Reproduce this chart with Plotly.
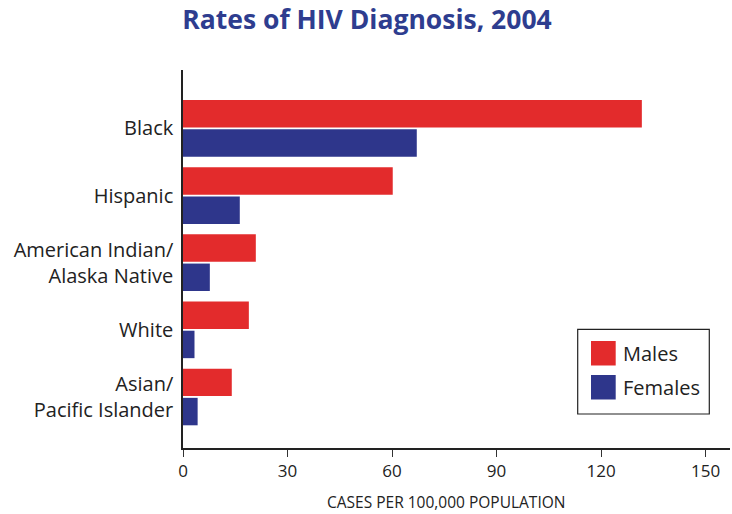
import plotly.graph_objects as go

categories = ["Asian/<br>Pacific Islander", "White", "American Indian/<br>Alaska Native", "Hispanic", "Black"]
males = [14.0, 18.9, 20.9, 60.2, 131.7]
females = [4.2, 3.3, 7.7, 16.3, 67.1]
tick_vals = [0, 30, 60, 90, 120, 150]
series_names = ["Males", "Females"]
colors = ["#E32B2C", "#2E368B"]
x_title = "CASES PER 100,000 POPULATION"

FONT = "Open Sans"

fig = go.Figure()
fig.add_trace(go.Bar(y=categories, x=females, orientation="h", name=series_names[1],
                     marker=dict(color=colors[1], line=dict(width=0)), showlegend=False))
fig.add_trace(go.Bar(y=categories, x=males, orientation="h", name=series_names[0],
                     marker=dict(color=colors[0], line=dict(width=0)), showlegend=False))

fig.update_layout(
    width=732, height=514,
    margin=dict(l=183, r=2, t=70, b=66),
    paper_bgcolor="white", plot_bgcolor="white",
    barmode="group", bargap=0.13, bargroupgap=0.06,
    title=dict(text="<b>Rates of HIV Diagnosis, 2004</b>", x=367/732, xanchor="center",
               y=0.962, yanchor="middle",
               font=dict(family=FONT, size=26.5, color="#2E3D8F")),
    font=dict(family=FONT, color="#222222"),
    xaxis=dict(range=[0, 157], tickvals=tick_vals, ticks="outside", ticklen=7,
               tickcolor="#333", tickwidth=1, showline=True, linecolor="#222", linewidth=1.5,
               showgrid=False, zeroline=False, tickfont=dict(size=17, color="#222")),
    yaxis=dict(range=[-0.76, 4.87], showline=True, linecolor="#222", linewidth=1.5,
               showgrid=False, zeroline=False, ticks="", ticklabelstandoff=4,
               tickfont=dict(size=20, color="#222")),
)

# x-axis title (slightly left of plot centre, as in the reference)
fig.add_annotation(xref="paper", yref="paper", x=(446-183)/547, y=-(502-448)/378,
                   text=x_title, showarrow=False, xanchor="center", yanchor="middle",
                   font=dict(family=FONT, size=15.5, color="#222"))

legend_shapes = [
    dict(type="rect", xref="paper", yref="paper", x0=(577.7-183)/547, x1=(709.3-183)/547,
         y0=(448-414)/378, y1=(448-329.3)/378, line=dict(color="#222", width=1.2), fillcolor="white"),
]
for i, (name, col) in enumerate(zip(series_names, colors)):
    top = 341 + i * 34
    legend_shapes.append(dict(type="rect", xref="paper", yref="paper",
                              x0=(591-183)/547, x1=(615.7-183)/547,
                              y0=(448-(top+24.5))/378, y1=(448-top)/378,
                              line=dict(width=0), fillcolor=col))
    fig.add_annotation(xref="paper", yref="paper", x=(621-183)/547, y=(448-(top+12.5))/378,
                       text=name, showarrow=False, xanchor="left", yanchor="middle",
                       font=dict(family=FONT, size=20, color="#222"))
fig.update_layout(shapes=legend_shapes)

fig.write_html("out.html")
